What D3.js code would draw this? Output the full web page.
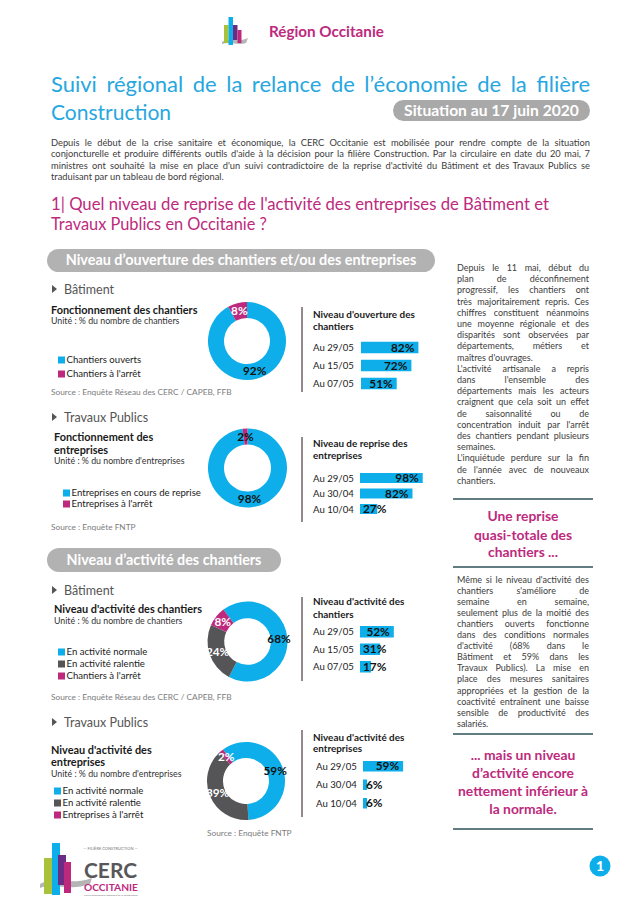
<!DOCTYPE html>
<html>
<head>
<meta charset="utf-8">
<script src="https://cdn.jsdelivr.net/npm/d3@7"></script>
<style>
body { margin: 0; background: #fff; }
svg { display: block; font-family: Lato, "Open Sans", sans-serif; }
</style>
</head>
<body>
<svg id="page" width="641" height="901"></svg>
<script>
// chart values ------------------------------------------------------------
const ouvBatCats = ["Chantiers ouverts", "Chantiers à l'arrêt"];
const ouvBatShares = [92, 8];
const ouvBatDates = ["Au 29/05", "Au 15/05", "Au 07/05"];
const ouvBatLevels = [82, 72, 51];

const repTpCats = ["Entreprises en cours de reprise", "Entreprises à l'arrêt"];
const repTpShares = [98, 2];
const repTpDates = ["Au 29/05", "Au 30/04", "Au 10/04"];
const repTpLevels = [98, 82, 27];

const actBatCats = ["En activité normale", "En activité ralentie", "Chantiers à l'arrêt"];
const actBatShares = [68, 24, 8];
const actBatDates = ["Au 29/05", "Au 15/05", "Au 07/05"];
const actBatLevels = [52, 31, 17];

const actTpCats = ["En activité normale", "En activité ralentie", "Entreprises à l'arrêt"];
const actTpShares = [59, 39, 2];
const actTpDates = ["Au 29/05", "Au 30/04", "Au 10/04"];
const actTpLevels = [59, 6, 6];

// texts -------------------------------------------------------------------
const introLines = [
  "Depuis le début de la crise sanitaire et économique, la CERC Occitanie est mobilisée pour rendre compte de la situation",
  "conjoncturelle et produire différents outils d'aide à la décision pour la filière Construction. Par la circulaire en date du 20 mai, 7",
  "ministres ont souhaité la mise en place d'un suivi contradictoire de la reprise d'activité du Bâtiment et des Travaux Publics se",
  "traduisant par un tableau de bord régional."
];
const introEnds = [3];

const para1Lines = [
  "Depuis le 11 mai, début du", "plan de déconfinement", "progressif, les chantiers ont",
  "très majoritairement repris. Ces", "chiffres constituent néanmoins", "une moyenne régionale et des",
  "disparités sont observées par", "départements, métiers et", "maîtres d'ouvrages.",
  "L'activité artisanale a repris", "dans l'ensemble des", "départements mais les acteurs",
  "craignent que cela soit un effet", "de saisonnalité ou de", "concentration induit par l'arrêt",
  "des chantiers pendant plusieurs", "semaines.", "L'inquiétude perdure sur la fin",
  "de l'année avec de nouveaux", "chantiers."
];
const para1Ends = [8, 16, 19];

const para2Lines = [
  "Même si le niveau d'activité des", "chantiers s'améliore de", "semaine en semaine,",
  "seulement plus de la moitié des", "chantiers ouverts fonctionne", "dans des conditions normales",
  "d'activité (68% dans le", "Bâtiment et 59% dans les", "Travaux Publics). La mise en",
  "place des mesures sanitaires", "appropriées et la gestion de la", "coactivité entraînent une baisse",
  "sensible de productivité des", "salariés."
];
const para2Ends = [13];

const call1Lines = ["Une reprise", "quasi-totale des", "chantiers ..."];
const call2Lines = ["... mais un niveau", "d’activité encore", "nettement inférieur à", "la normale."];

// colours
const cyan = "#0DAEE9";
const magenta = "#BD2A7D";
const slate = "#555558";
const titleBlue = "#27A7E0";
const pillGrey = "#B2B2B2";
const ink = "#3c3c3c";
const teal = "#2D5259";

const svg = d3.select("#page");

// helpers -----------------------------------------------------------------
function fit(sel, w) {
  const len = sel.node().getComputedTextLength();
  const fs = parseFloat(sel.attr("font-size"));
  sel.attr("font-size", (fs * w / len).toFixed(2));
  return sel;
}

function measure(str, size, weight) {
  const t = svg.append("text").attr("font-size", size).attr("font-weight", weight || 400).text(str);
  const w = t.node().getComputedTextLength();
  t.remove();
  return w;
}

function paragraph(lines, ends, o) {
  const minSpace = o.size * 0.22;
  let k = 1;
  lines.forEach((line, i) => {
    if (ends.includes(i)) return;
    const words = line.split(" ");
    const nat = d3.sum(words, w => measure(w, o.size, o.weight)) + (words.length - 1) * minSpace;
    k = Math.min(k, o.width / nat);
  });
  const size = o.size * k;
  const space = size * 0.26;
  lines.forEach((line, i) => {
    const words = line.split(" ");
    const t = svg.append("text")
      .attr("y", o.y + i * o.lh)
      .attr("font-size", size)
      .attr("font-weight", o.weight || 400)
      .attr("fill", o.color);
    const spans = words.map(w => t.append("tspan").text(w));
    const widths = spans.map(s => s.node().getComputedTextLength());
    const gap = (ends.includes(i) || words.length < 2)
      ? space
      : (o.width - d3.sum(widths)) / (words.length - 1);
    let cx = o.x;
    spans.forEach((s, j) => { s.attr("x", cx); cx += widths[j] + gap; });
  });
}

function pill(x, y, w, h, label, textW) {
  svg.append("rect").attr("x", x).attr("y", y).attr("width", w).attr("height", h)
    .attr("rx", h / 2).attr("fill", pillGrey);
  const t = svg.append("text").attr("x", x + w / 2).attr("y", y + h / 2 + 4.8)
    .attr("text-anchor", "middle").attr("font-size", 14).attr("font-weight", 700)
    .attr("fill", "#fff").text(label);
  fit(t, textW);
}

function sectionLabel(y, label) {
  svg.append("path").attr("d", `M52,${y - 9}L57,${y - 5}L52,${y - 1}Z`).attr("fill", "#555");
  svg.append("text").attr("x", 64).attr("y", y).attr("font-size", 12.5)
    .attr("fill", "#555").text(label);
}

function donut(shares, colors, labelColors, p) {
  const pie = d3.pie().sort(null)
    .startAngle(p.start * Math.PI / 180)
    .endAngle(p.start * Math.PI / 180 + 2 * Math.PI);
  const arc = d3.arc().innerRadius(p.r0).outerRadius(p.r1);
  const g = svg.append("g").attr("transform", `translate(${p.cx},${p.cy})`);
  const arcs = pie(shares);
  g.selectAll("path").data(arcs).join("path")
    .attr("d", arc)
    .attr("fill", (d, i) => colors[i]);
  g.selectAll("text").data(arcs).join("text")
    .attr("x", d => arc.centroid(d)[0])
    .attr("y", d => arc.centroid(d)[1] + 4)
    .attr("text-anchor", "middle")
    .attr("font-size", 11.8).attr("font-weight", 700)
    .attr("fill", (d, i) => labelColors[i])
    .text(d => d.data + "%");
}

function legend(cats, colors, x, ys) {
  cats.forEach((c, i) => {
    svg.append("rect").attr("x", x).attr("y", ys[i] - 3.5).attr("width", 7).attr("height", 7)
      .attr("fill", colors[i]);
    svg.append("text").attr("x", x + 8.5).attr("y", ys[i] + 3.4).attr("font-size", 9.6)
      .attr("fill", "#222").text(c);
  });
}

function barChart(dates, levels, p) {
  const x = d3.scaleLinear().domain([0, 100]).range([p.x0, p.x0 + p.w]);
  const pad = 1 - p.h / p.step;
  const y = d3.scaleBand().domain(dates)
    .range([p.top, p.top + dates.length * p.step])
    .paddingInner(pad).paddingOuter(pad / 2);
  const g = svg.append("g");
  g.selectAll("text.date").data(dates).join("text").attr("class", "date")
    .attr("x", p.labelX).attr("y", d => y(d) + y.bandwidth() / 2 + 3.5)
    .attr("font-size", 9.6).attr("fill", "#222").text(d => d);
  g.selectAll("rect").data(levels).join("rect")
    .attr("x", x(0)).attr("y", (d, i) => y(dates[i]))
    .attr("width", d => x(d) - x(0)).attr("height", y.bandwidth())
    .attr("fill", cyan);
  g.selectAll("text.val").data(levels).join("text").attr("class", "val")
    .attr("y", (d, i) => y(dates[i]) + y.bandwidth() / 2 + 4.2)
    .attr("text-anchor", "end")
    .attr("font-size", 11.8).attr("font-weight", 700).attr("fill", "#111")
    .text(d => d + "%")
    .attr("x", function (d) {
      const tw = this.getComputedTextLength();
      return Math.max(x(d) - 4, x(0) + 3 + tw);
    });
}

function textLines(lines, x, ys, size, weight, color, anchor) {
  lines.forEach((l, i) => {
    svg.append("text").attr("x", x).attr("y", ys[i]).attr("font-size", size)
      .attr("font-weight", weight).attr("fill", color)
      .attr("text-anchor", anchor || "start").text(l);
  });
}

function block(p) {
  sectionLabel(p.sectionY, p.section);
  textLines(p.title, p.titleX, p.titleYs, 10.9, 700, "#1a1a1a");
  textLines([p.unit], p.titleX, [p.unitY], 8.8, 400, "#333");
  legend(p.cats, p.colors, p.legendX, p.legendYs);
  textLines([p.source], p.sourceX, [p.sourceY], 8.3, 400, "#7d7d7d");
  donut(p.shares, p.colors, p.labelColors, p.donut);
  svg.append("line").attr("x1", 302).attr("x2", 302)
    .attr("y1", p.ruleY[0]).attr("y2", p.ruleY[1])
    .attr("stroke", "#5b4b49").attr("stroke-width", 1.3);
  textLines(p.barTitle, 313, p.barTitleYs, 9.9, 700, "#1a1a1a");
  barChart(p.dates, p.levels, p.bars);
}

function draw() {
  // header logo
  const logo = svg.append("g").attr("transform", "translate(222,16)");
  logo.append("path").attr("d", "M0,26 C8,21 16,27 26,22 L24,27 C16,30 8,25 0,28Z").attr("fill", "#b5b5b5");
  logo.append("rect").attr("x", 2).attr("y", 9).attr("width", 4.5).attr("height", 18).attr("fill", "#a9c23c");
  logo.append("rect").attr("x", 6.5).attr("y", 1).attr("width", 4.5).attr("height", 28).attr("fill", cyan);
  logo.append("rect").attr("x", 11).attr("y", 9).attr("width", 4.5).attr("height", 15).attr("fill", "#6a2c85");
  logo.append("rect").attr("x", 15.5).attr("y", 14).attr("width", 4).attr("height", 13).attr("fill", magenta);

  fit(svg.append("text").attr("x", 269).attr("y", 37).attr("font-size", 14)
    .attr("font-weight", 700).attr("fill", magenta).text("Région Occitanie"), 115);

  // title
  paragraph(["Suivi régional de la relance de l’économie de la filière"], [], {
    x: 51, y: 92, lh: 0, width: 539, size: 22, color: titleBlue
  });
  const t2 = svg.append("text").attr("x", 51).attr("y", 120).attr("font-size", 22)
    .attr("fill", titleBlue).text("Construction");
  fit(t2, 120);

  svg.append("rect").attr("x", 393).attr("y", 100).attr("width", 197).attr("height", 21)
    .attr("rx", 10.5).attr("fill", "#a9a9a9");
  fit(svg.append("text").attr("x", 491.5).attr("y", 116).attr("text-anchor", "middle")
    .attr("font-size", 14).attr("font-weight", 700).attr("fill", "#fff")
    .text("Situation au 17 juin 2020"), 175);

  paragraph(introLines, introEnds, { x: 51, y: 145.5, lh: 11.6, width: 539, size: 9.3, color: ink });

  fit(svg.append("text").attr("x", 51).attr("y", 210).attr("font-size", 15.5)
    .attr("fill", magenta)
    .text("1| Quel niveau de reprise de l'activité des entreprises de Bâtiment et"), 498);
  fit(svg.append("text").attr("x", 51).attr("y", 230).attr("font-size", 15.5)
    .attr("fill", magenta).text("Travaux Publics en Occitanie ?"), 216);

  pill(47, 249, 388, 23, "Niveau d’ouverture des chantiers et/ou des entreprises", 351);

  block({
    section: "Bâtiment", sectionY: 294,
    title: ["Fonctionnement des chantiers"], titleX: 51, titleYs: [314],
    unit: "Unité : % du nombre de chantiers", unitY: 324,
    cats: ouvBatCats, shares: ouvBatShares, colors: [cyan, magenta],
    labelColors: ["#111", "#fff"],
    legendX: 58, legendYs: [360, 374],
    source: "Source : Enquête Réseau des CERC / CAPEB, FFB", sourceX: 51, sourceY: 395,
    donut: { cx: 247, cy: 341, r0: 23, r1: 39, start: 0 },
    ruleY: [307, 392],
    barTitle: ["Niveau d'ouverture des", "chantiers"], barTitleYs: [318, 329.5],
    dates: ouvBatDates, levels: ouvBatLevels,
    bars: { labelX: 313, x0: 361, w: 70, top: 338.5, step: 18, h: 11.5 }
  });

  block({
    section: "Travaux Publics", sectionY: 422,
    title: ["Fonctionnement des", "entreprises"], titleX: 54, titleYs: [441, 454],
    unit: "Unité : % du nombre d'entreprises", unitY: 464,
    cats: repTpCats, shares: repTpShares, colors: [cyan, magenta],
    labelColors: ["#111", "#111"],
    legendX: 63, legendYs: [493, 504],
    source: "Source : Enquête FNTP", sourceX: 51, sourceY: 530,
    donut: { cx: 247.5, cy: 468, r0: 23.5, r1: 39.5, start: 0 },
    ruleY: [437, 522],
    barTitle: ["Niveau de reprise des", "entreprises"], barTitleYs: [447, 459],
    dates: repTpDates, levels: repTpLevels,
    bars: { labelX: 313, x0: 360, w: 64, top: 470.25, step: 15.5, h: 10 }
  });

  pill(47, 548, 234, 24, "Niveau d’activité des chantiers", 195);

  block({
    section: "Bâtiment", sectionY: 595,
    title: ["Niveau d'activité des chantiers"], titleX: 54, titleYs: [613],
    unit: "Unité : % du nombre de chantiers", unitY: 624,
    cats: actBatCats, shares: actBatShares, colors: [cyan, slate, magenta],
    labelColors: ["#111", "#fff", "#fff"],
    legendX: 58, legendYs: [652, 664, 676],
    source: "Source : Enquête Réseau des CERC / CAPEB, FFB", sourceX: 51, sourceY: 700,
    donut: { cx: 247.5, cy: 641.5, r0: 23.3, r1: 40, start: -37 },
    ruleY: [597, 681],
    barTitle: ["Niveau d'activité des", "chantiers"], barTitleYs: [605, 618],
    dates: actBatDates, levels: actBatLevels,
    bars: { labelX: 313, x0: 360, w: 65, top: 623, step: 17.5, h: 11.5 }
  });

  block({
    section: "Travaux Publics", sectionY: 727,
    title: ["Niveau d'activité des", "entreprises"], titleX: 51, titleYs: [754, 766],
    unit: "Unité : % du nombre d'entreprises", unitY: 777,
    cats: actTpCats, shares: actTpShares, colors: [cyan, slate, magenta],
    labelColors: ["#111", "#fff", "#fff"],
    legendX: 54, legendYs: [791, 803, 815],
    source: "Source : Enquête FNTP", sourceX: 207, sourceY: 836,
    donut: { cx: 246, cy: 781, r0: 23, r1: 39, start: -36 },
    ruleY: [730, 817],
    barTitle: ["Niveau d'activité des", "entreprises"], barTitleYs: [741, 752],
    dates: actTpDates, levels: actTpLevels,
    bars: { labelX: 316, x0: 363, w: 68, top: 757, step: 18.5, h: 10.5 }
  });

  // right column
  paragraph(para1Lines, para1Ends, { x: 457, y: 271, lh: 11.2, width: 132, size: 9, color: ink });
  paragraph(para2Lines, para2Ends, { x: 457, y: 583, lh: 11.05, width: 132, size: 9, color: ink });

  [499, 567, 734, 829].forEach(y => {
    svg.append("line").attr("x1", 453).attr("x2", 593).attr("y1", y).attr("y2", y)
      .attr("stroke", teal).attr("stroke-width", 1.5);
  });

  const c1 = svg.append("text").attr("font-size", 13).attr("font-weight", 700).text(call1Lines[1]);
  fit(c1, 98);
  const c1Size = +c1.attr("font-size");
  c1.remove();
  textLines(call1Lines, 523, [521, 539.5, 557], c1Size, 700, magenta, "middle");

  const c2 = svg.append("text").attr("font-size", 13).attr("font-weight", 700).text(call2Lines[2]);
  fit(c2, 130);
  const c2Size = +c2.attr("font-size");
  c2.remove();
  textLines(call2Lines, 523, [759.5, 777.5, 796, 814], c2Size, 700, magenta, "middle");

  // footer logo
  const f = svg.append("g").attr("transform", "translate(40,842)");
  f.append("path").attr("d", "M0,42 C12,34 30,44 52,36 L50,42 C30,50 14,40 0,46Z").attr("fill", "#b5b5b5");
  f.append("rect").attr("x", 4).attr("y", 16).attr("width", 8).attr("height", 36).attr("fill", "#a9c23c");
  f.append("rect").attr("x", 12).attr("y", 1).attr("width", 8).attr("height", 52).attr("fill", cyan);
  f.append("rect").attr("x", 18).attr("y", 13).attr("width", 8).attr("height", 30).attr("fill", "#6a2c85");
  f.append("rect").attr("x", 24).attr("y", 20).attr("width", 7).attr("height", 31).attr("fill", magenta);
  f.append("text").attr("x", 70.5).attr("y", 8).attr("text-anchor", "middle").attr("font-size", 4)
    .attr("fill", "#777").text("— FILIÈRE CONSTRUCTION —");
  fit(f.append("text").attr("x", 44).attr("y", 36).attr("font-size", 28).attr("font-weight", 700)
    .attr("fill", "#58585a").text("CERC"), 53);
  fit(f.append("text").attr("x", 44).attr("y", 48.5).attr("font-size", 11).attr("font-weight", 700)
    .attr("fill", magenta).text("OCCITANIE"), 54);
  fit(f.append("text").attr("x", 44).attr("y", 54).attr("font-size", 3).attr("fill", "#777")
    .text("Cellule Économique Régionale de la Construction"), 54);

  svg.append("circle").attr("cx", 600).attr("cy", 866).attr("r", 10.5).attr("fill", cyan);
  svg.append("text").attr("x", 600).attr("y", 871).attr("text-anchor", "middle")
    .attr("font-size", 14).attr("font-weight", 900).attr("fill", "#fff").text("1");
}

if (document.fonts && document.fonts.ready) document.fonts.ready.then(draw);
else draw();
</script>
</body>
</html>
